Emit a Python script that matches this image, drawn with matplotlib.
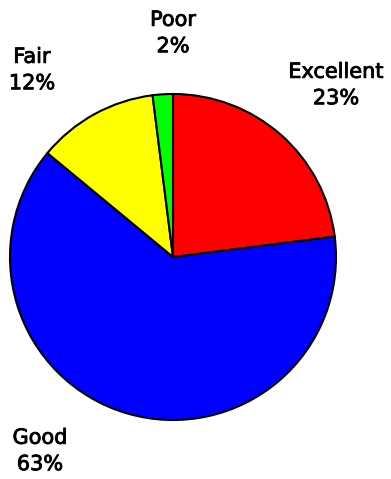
import matplotlib.pyplot as plt
import matplotlib.patheffects as pe

categories = ['Excellent', 'Good', 'Fair', 'Poor']
shares = [23, 63, 12, 2]
colors = ['#ff0000', '#0000ff', '#ffff00', '#00ff00']

# label anchor points, in units of the pie radius
label_pos = [(1.0, 1.055), (-0.816, -1.19), (-0.865, 1.147), (0.0, 1.374)]

fig = plt.figure(figsize=(3.91, 4.79), dpi=100)
ax = fig.add_axes([0, 0, 1, 1])

ax.pie(shares, colors=colors, startangle=90, counterclock=False,
       radius=1.0, center=(0, 0),
       wedgeprops=dict(edgecolor='black', linewidth=1.5))

# slightly heavier strokes than plain DejaVu regular
thick = [pe.withStroke(linewidth=0.6, foreground='black')]
for name, val, (x, y) in zip(categories, shares, label_pos):
    ax.text(x, y, f'{name}\n{val}%', ha='center', va='center',
            fontsize=15, linespacing=1.4, family='DejaVu Sans',
            path_effects=thick)

r_px = 163.0
cx, cy = 173.0, 257.0
ax.set_xlim(-cx / r_px, (391 - cx) / r_px)
ax.set_ylim(-(479 - cy) / r_px, cy / r_px)
ax.set_aspect('equal')
ax.axis('off')

fig.savefig('out.png', dpi=100)
